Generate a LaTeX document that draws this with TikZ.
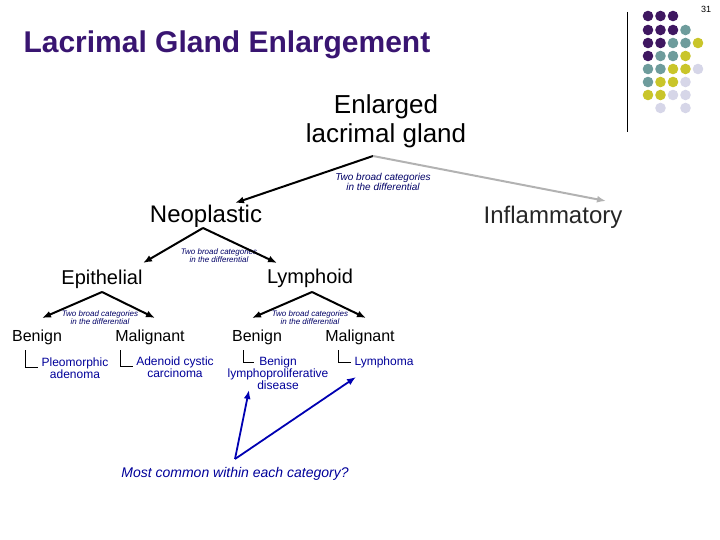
\documentclass[tikz,border=0pt]{standalone}
\usepackage{fontspec}
\setmainfont{Liberation Sans}
\usetikzlibrary{arrows.meta}
\begin{document}
\begin{tikzpicture}[x=1pt,y=-1pt,
 big/.style={font=\fontsize{24}{26}\selectfont},
 mid/.style={font=\fontsize{16}{18}\selectfont},
 mid2/.style={font=\fontsize{20}{22}\selectfont},
 leaf/.style={font=\fontsize{12}{12}\selectfont,text=blue!60!black,align=center},
 lab/.style={font=\fontsize{10}{10}\selectfont\itshape,text=blue!40!black,align=center},
 labs/.style={font=\fontsize{8}{8}\selectfont\itshape,text=blue!40!black,align=center},
 arr/.style={-{Latex[length=9pt,width=7pt]},line width=2pt},
 brk/.style={line width=0.8pt}]
\definecolor{dp}{HTML}{3F1761}\definecolor{dt}{HTML}{6E9C9C}
\definecolor{dy}{HTML}{C9C52A}\definecolor{dl}{HTML}{D6D6E8}
\useasboundingbox (0,0) rectangle (720,540);
\node (pg) at (706,9) {\fontsize{9}{9}\selectfont 31};
\draw[line width=0.8pt] (627,12) -- (627,132);
\foreach \r/\row in {16/{dp,dp,dp},30/{dp,dp,dp,dt},43/{dp,dp,dt,dt,dy},56/{dp,dt,dt,dy},69/{dt,dt,dy,dy,dl},82/{dt,dy,dy,dl},95/{dy,dy,dl,dl}}{
 \foreach \c [count=\i] in \row {\fill[\c] (635.5+12.5*\i,\r) circle (5.3);}}
\fill[dl] (660.5,108) circle (5.3); \fill[dl] (685.5,108) circle (5.3);
\node[anchor=west,font=\fontsize{30}{32}\selectfont\bfseries,text=dp!90!blue] (title) at (20,45) {Lacrimal Gland Enlargement};
\node[align=center,font=\fontsize{26}{29}\selectfont] (root) at (386,121) {Enlarged\\lacrimal gland};
\coordinate (a0) at (373,156);
\node[lab] at (383,182) {Two broad categories\\in the differential};
\node[big] (neo) at (206,216) {Neoplastic};
\node[big,text=black!85] (inf) at (553,217) {Inflammatory};
\draw[arr] (a0) -- (235,203);
\draw[arr,gray!60] (a0) -- (606,201);
\coordinate (a1) at (203,228);
\node[labs] at (219,256) {Two broad categories\\in the differential};
\node[mid2] (epi) at (102,279) {Epithelial};
\node[mid2] (lym) at (310,278) {Lymphoid};
\draw[arr] (a1) -- (143,263);
\draw[arr] (a1) -- (277,263);
\coordinate (a2) at (102,292);
\coordinate (a3) at (312,292);
\node[labs] at (100,318) {Two broad categories\\in the differential};
\node[labs] at (310,318) {Two broad categories\\in the differential};
\node[mid] (b1) at (37,337) {Benign};
\node[mid] (m1) at (150,337) {Malignant};
\node[mid] (b2) at (257,337) {Benign};
\node[mid] (m2) at (360,337) {Malignant};
\draw[arr] (a2) -- (42,318); \draw[arr] (a2) -- (155,318);
\draw[arr] (a3) -- (252,318); \draw[arr] (a3) -- (366,318);
\node[leaf] (l1) at (75,368) {Pleomorphic\\adenoma};
\node[leaf] (l2) at (175,367) {Adenoid cystic\\carcinoma};
\node[leaf] (l3) at (278,373) {Benign\\lymphoproliferative\\disease};
\node[leaf] (l4) at (384,362) {Lymphoma};
\coordinate (k1) at (25,350); \coordinate (k2) at (120,350);
\coordinate (k3) at (243,350); \coordinate (k4) at (338,350);
\draw[brk] (k1) |- (l1.west|-0,367);
\draw[brk] (k2) |- (l2.west|-0,366);
\draw[brk] (k3) |- (254,362);
\draw[brk] (k4) |- (l4.west);
\node[font=\fontsize{14}{14}\selectfont\itshape,text=blue!60!black] (q) at (235,474) {Most common within each category?};
\coordinate (qt) at (235,459);
\draw[-{Latex[length=9pt,width=7pt]},line width=1.8pt,blue!70!black] (qt) -- (249,390);
\draw[-{Latex[length=9pt,width=7pt]},line width=1.8pt,blue!70!black] (qt) -- (356,377);
\end{tikzpicture}
\end{document}
